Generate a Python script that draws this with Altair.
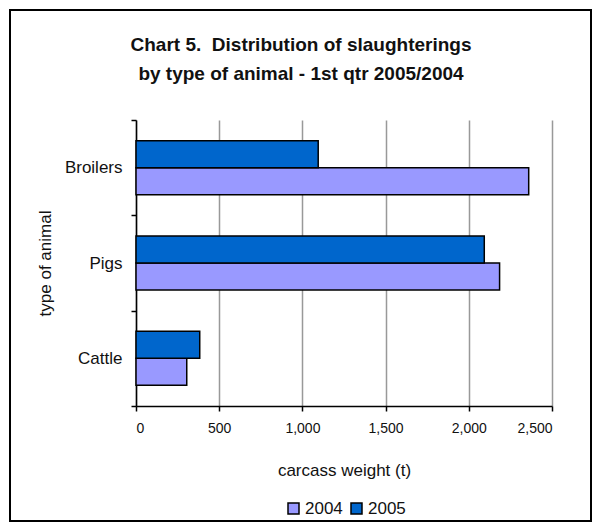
import altair as alt
import pandas as pd

animals = ["Broilers", "Pigs", "Cattle"]
years = ["2004", "2005"]
values_2004 = [2360, 2185, 305]
values_2005 = [1095, 2093, 383]
title_lines = ["Chart 5.\u00a0 Distribution of slaughterings", "by type of animal - 1st qtr 2005/2004"]

rows = []
for a, v4, v5 in zip(animals, values_2004, values_2005):
    rows.append({"animal": a, "year": "2004", "weight": v4})
    rows.append({"animal": a, "year": "2005", "weight": v5})
df = pd.DataFrame(rows)

FONT = "Liberation Sans"

bars = alt.Chart(df).mark_bar(stroke="black", strokeWidth=1.5).encode(
    x=alt.X("weight:Q",
            scale=alt.Scale(domain=[0, 2500], nice=False),
            axis=alt.Axis(values=[0, 500, 1000, 1500, 2000, 2500], format=",.0f",
                          title="carcass weight (t)", grid=True, gridColor="#999999",
                          gridWidth=1.5, domainColor="black", domainWidth=1.5,
                          tickColor="black", tickWidth=1.5, tickSize=5,
                          labelFont=FONT, labelFontSize=14, labelColor="#111111",
                          labelPadding=10, titleFont=FONT, titleFontSize=17,
                          titleFontWeight="normal", titleColor="#111111",
                          titlePadding=27)),
    y=alt.Y("animal:N", sort=animals,
            scale=alt.Scale(paddingInner=0, paddingOuter=0),
            axis=alt.Axis(title="type of animal", tickBand="extent",
                          domainColor="black", domainWidth=1.5,
                          tickColor="black", tickWidth=1.5, tickSize=5,
                          labelFont=FONT, labelFontSize=17, labelColor="#111111",
                          labelPadding=9, titleFont=FONT, titleFontSize=17,
                          titleFontWeight="normal", titleColor="#111111",
                          titlePadding=10)),
    yOffset=alt.YOffset("year:N", sort=["2005", "2004"],
                        scale=alt.Scale(paddingInner=0, paddingOuter=0.765)),
    color=alt.Color("year:N",
                    scale=alt.Scale(domain=years, range=["#9999FF", "#0066CC"]),
                    legend=alt.Legend(title=None, orient="none", direction="horizontal",
                                      legendX=149, legendY=380, symbolType="square",
                                      symbolSize=121, symbolStrokeColor="black",
                                      symbolStrokeWidth=1.5, labelFont=FONT,
                                      labelFontSize=17, labelColor="#111111",
                                      columnPadding=5, labelOffset=3)),
)

frame = alt.Chart(alt.Data(values=[{}])).mark_rect(
    filled=False, stroke="black", strokeWidth=2
).encode(
    x=alt.value(-126), x2=alt.value(455), y=alt.value(-110), y2=alt.value(401)
)

title1 = alt.Chart(alt.Data(values=[{"t": title_lines[0]}])).mark_text(
    font=FONT, fontSize=19, fontWeight="bold", color="#111111", align="center",
    baseline="alphabetic"
).encode(text="t:N", x=alt.value(165), y=alt.value(-69))

title2 = alt.Chart(alt.Data(values=[{"t": title_lines[1]}])).mark_text(
    font=FONT, fontSize=19, fontWeight="bold", color="#111111", align="center",
    baseline="alphabetic"
).encode(text="t:N", x=alt.value(165), y=alt.value(-40))

chart = alt.layer(frame, title1, title2, bars).properties(
    width=416, height=286,
    autosize=alt.AutoSizeParams(type="none"),
    padding={"left": 128, "top": 112, "right": 41, "bottom": 117},
).configure_view(stroke=None)

chart.save("out.html", embed_options={"renderer": "svg", "actions": False})
